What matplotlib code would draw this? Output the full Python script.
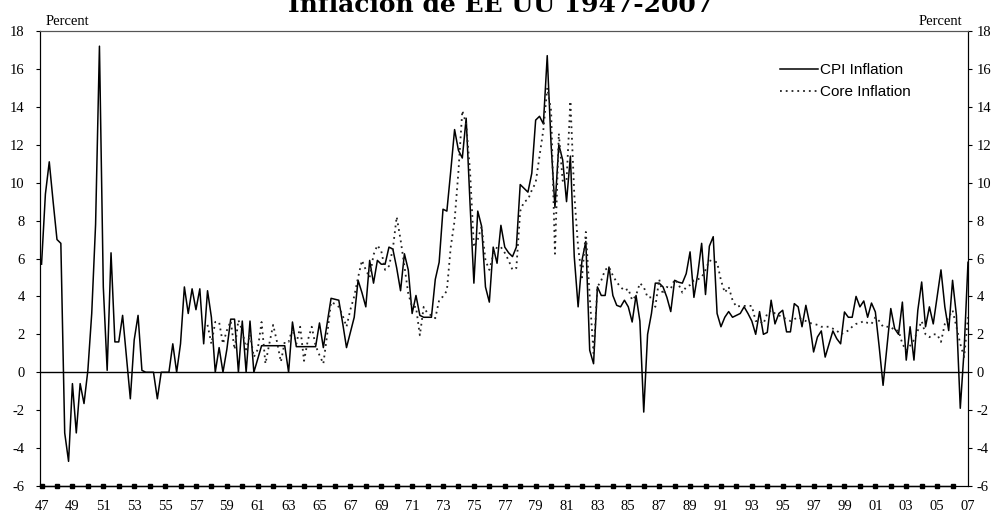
import numpy as np
import matplotlib
matplotlib.use("Agg")
import matplotlib.pyplot as plt

# quarterly inflation, annualized percent; CPI from 1947Q1, core from 1957Q4
cpi = [
    5.7, 9.4, 11.1, 9.0,        # 1947
    7.0, 6.8, -3.2, -4.7,       # 1948
    -0.6, -3.2, -0.6, -1.65,    # 1949
    0.1, 3.1, 7.8, 17.2,        # 1950
    4.5, 0.1, 6.3, 1.6,         # 1951
    1.6, 3.0, 0.8, -1.4,        # 1952
    1.7, 3.0, 0.1, 0.0,         # 1953
    0.0, 0.0, -1.4, 0.0,        # 1954
    0.0, 0.0, 1.5, 0.0,         # 1955
    1.5, 4.5, 3.1, 4.4,         # 1956
    3.3, 4.4, 1.5, 4.3,         # 1957
    2.9, 0.0, 1.3, 0.0,         # 1958
    1.2, 2.8, 2.8, 0.0,         # 1959
    2.7, 0.0, 2.7, 0.0,         # 1960
    0.7, 1.4, 1.4, 1.4,         # 1961
    1.4, 1.4, 1.4, 1.4,         # 1962
    0.0, 2.65, 1.35, 1.35,      # 1963
    1.35, 1.35, 1.35, 1.35,     # 1964
    2.6, 1.3, 2.6, 3.9,         # 1965
    3.85, 3.8, 2.6, 1.3,        # 1966
    2.1, 2.9, 4.85, 4.2,        # 1967
    3.45, 5.9, 4.7, 5.9,        # 1968
    5.7, 5.7, 6.6, 6.5,         # 1969
    5.5, 4.3, 6.25, 5.4,        # 1970
    3.1, 4.05, 3.0, 2.9,        # 1971
    2.9, 2.9, 4.9, 5.8,         # 1972
    8.6, 8.5, 10.6, 12.8,       # 1973
    11.7, 11.3, 13.4, 8.9,      # 1974
    4.7, 8.5, 7.7, 4.5,         # 1975
    3.7, 6.6, 5.75, 7.75,       # 1976
    6.6, 6.3, 6.1, 6.6,         # 1977
    9.9, 9.7, 9.5, 10.5,        # 1978
    13.3, 13.5, 13.1, 16.7,     # 1979
    12.0, 8.7, 12.0, 11.2,      # 1980
    9.0, 11.4, 6.1, 3.45,       # 1981
    5.9, 6.9, 1.16, 0.45,       # 1982
    4.5, 4.05, 4.05, 5.55,      # 1983
    4.05, 3.53, 3.45, 3.8,      # 1984
    3.45, 2.65, 4.05, 2.7,      # 1985
    -2.1, 2.0, 3.1, 4.7,        # 1986
    4.7, 4.5, 3.95, 3.2,        # 1987
    4.85, 4.75, 4.7, 5.2,       # 1988
    6.35, 3.95, 5.2, 6.8,       # 1989
    4.1, 6.65, 7.15, 3.1,       # 1990
    2.4, 2.9, 3.2, 2.9,         # 1991
    3.0, 3.1, 3.45, 3.1,        # 1992
    2.7, 2.0, 3.2, 2.0,         # 1993
    2.1, 3.8, 2.55, 3.1,        # 1994
    3.27, 2.13, 2.13, 3.62,     # 1995
    3.45, 2.4, 3.53, 2.55,      # 1996
    1.07, 1.86, 2.18, 0.8,      # 1997
    1.5, 2.18, 1.77, 1.5,       # 1998
    3.18, 2.9, 2.9, 4.0,        # 1999
    3.45, 3.76, 2.9, 3.65,      # 2000
    3.18, 1.33, -0.69, 1.33,    # 2001
    3.36, 2.3, 2.0, 3.7,        # 2002
    0.64, 2.4, 0.64, 3.27,      # 2003
    4.76, 2.4, 3.45, 2.55,      # 2004
    3.96, 5.4, 3.45, 2.2,       # 2005
    4.85, 3.0, -1.9, 1.2,       # 2006
    5.8,                        # 2007
]

core = [
    2.5,                        # 1957 Q4
    1.5, 2.65, 2.65, 1.5,       # 1958
    2.2, 2.7, 1.2, 2.75,        # 1959
    2.2, 1.2, 2.0, 0.8,         # 1960
    1.2, 2.65, 0.45, 1.5,       # 1961
    2.5, 1.6, 0.55, 1.6,        # 1962
    1.6, 2.3, 1.5, 2.4,         # 1963
    0.6, 1.7, 2.4, 1.4,         # 1964
    0.9, 0.45, 2.0, 3.7,        # 1965
    3.6, 3.45, 3.0, 2.4,        # 1966
    3.3, 4.0, 5.0, 5.9,         # 1967
    5.4, 5.0, 6.2, 6.7,         # 1968
    6.4, 5.4, 5.6, 6.5,         # 1969
    8.2, 7.0, 5.6, 4.15,        # 1970
    3.45, 3.45, 1.95, 3.45,     # 1971
    3.1, 3.0, 2.85, 3.8,        # 1972
    4.0, 4.3, 6.6, 8.0,         # 1973
    10.6, 13.8, 13.1, 10.6,     # 1974
    6.6, 7.0, 7.7, 5.9,         # 1975
    5.4, 6.2, 6.6, 6.6,         # 1976
    6.3, 5.9, 5.4, 5.5,         # 1977
    8.5, 9.0, 9.1, 9.6,         # 1978
    10.0, 11.4, 12.8, 15.0,     # 1979
    13.8, 6.25, 12.6, 10.1,     # 1980
    10.1, 14.3, 9.4, 6.6,       # 1981
    5.0, 7.4, 4.0, 1.0,         # 1982
    4.5, 4.85, 5.4, 5.55,       # 1983
    5.1, 4.75, 4.5, 4.3,        # 1984
    4.4, 3.8, 4.05, 4.7,        # 1985
    4.5, 3.95, 3.95, 3.45,      # 1986
    4.9, 4.1, 4.5, 4.4,         # 1987
    4.9, 4.65, 4.2, 4.5,        # 1988
    4.6, 4.85, 4.9, 5.0,        # 1989
    5.4, 5.9, 5.85, 5.8,        # 1990
    4.85, 4.2, 4.5, 3.8,        # 1991
    3.45, 3.5, 3.5, 3.5,        # 1992
    3.5, 2.7, 2.7, 2.55,        # 1993
    3.1, 3.27, 3.1, 3.0,        # 1994
    2.9, 2.8, 2.7, 2.8,         # 1995
    2.9, 2.8, 2.7, 2.6,         # 1996
    2.55, 2.5, 2.4, 2.4,        # 1997
    2.4, 2.3, 2.2, 2.0,         # 1998
    2.1, 2.2, 2.4, 2.55,        # 1999
    2.6, 2.7, 2.6, 2.55,        # 2000
    2.9, 2.7, 2.4, 2.4,         # 2001
    2.4, 2.2, 2.2, 1.5,         # 2002
    1.15, 1.4, 1.7, 2.2,        # 2003
    2.7, 2.0, 1.85, 2.0,        # 2004
    2.0, 1.6, 2.55, 2.9,        # 2005
    3.27, 2.4, 1.5, 0.8,        # 2006
    2.9,                        # 2007
]

cpi_start = 1947.0
core_start = 1957.75
label_years = list(range(1947, 2008, 2))
yticks = list(range(-6, 19, 2))
title = "Inflación de EE UU 1947-2007"

cpi_t = cpi_start + np.arange(len(cpi)) / 4
core_t = core_start + np.arange(len(core)) / 4

plt.rcParams["font.family"] = "Liberation Serif"

fig = plt.figure(figsize=(9.96, 5.12), dpi=100)
ax = fig.add_axes([40 / 996, 26 / 512, 928 / 996, 455 / 512])

ax.plot(cpi_t, cpi, color="black", lw=1.1, label="CPI Inflation")
ax.plot(core_t, core, color="#222222", lw=1.3, linestyle=(0, (1, 2.2)),
        label="Core Inflation")
ax.axhline(0, color="black", lw=1.0)

# yearly markers along the bottom
years = np.arange(1947, 2007)
ax.plot(years, np.full(len(years), -6.0), color="black", lw=1.0,
        marker="s", ms=3.5, clip_on=False, zorder=5)

ax.set_xlim(1946.9, 2007.0)
ax.set_ylim(-6, 18)
ax.set_xticks(label_years)
ax.set_xticklabels([f"{y % 100:02d}" for y in label_years], fontsize=10.5)
ax.tick_params(axis="x", length=0, pad=10)
ax.set_yticks(yticks)
ax.set_yticklabels([str(v) for v in yticks], fontsize=10.5)
ax.tick_params(axis="y", length=3, width=0.8, direction="out",
               left=True, right=False, labelleft=True, labelright=False, pad=8)

# right-hand scale with its own label spacing
ax2 = ax.twinx()
ax2.set_ylim(ax.get_ylim())
ax2.set_yticks(yticks)
ax2.set_yticklabels([str(v) for v in yticks], fontsize=10.5)
ax2.tick_params(axis="y", length=3, width=0.8, direction="out", pad=3)

for a in (ax, ax2):
    for side in ["left", "right", "bottom"]:
        a.spines[side].set_linewidth(0.8)
    a.spines["top"].set_color("#555555")
    a.spines["top"].set_linewidth(0.8)

ax.text(0.006, 1.006, "Percent", transform=ax.transAxes, fontsize=10.5,
        ha="left", va="bottom")
ax.text(0.994, 1.006, "Percent", transform=ax.transAxes, fontsize=10.5,
        ha="right", va="bottom")

ax.legend(loc="upper left", bbox_to_anchor=(0.797, 0.93), frameon=False,
          prop={"family": "Liberation Sans", "size": 11}, handlelength=2.5,
          handletextpad=0.15, labelspacing=0.55, borderpad=0, borderaxespad=0)

fig.text(0.503, 1 - 12 / 512, title, ha="center", va="baseline",
         fontsize=18, fontweight="bold", family="DejaVu Serif")

fig.savefig("out.png", dpi=100)
